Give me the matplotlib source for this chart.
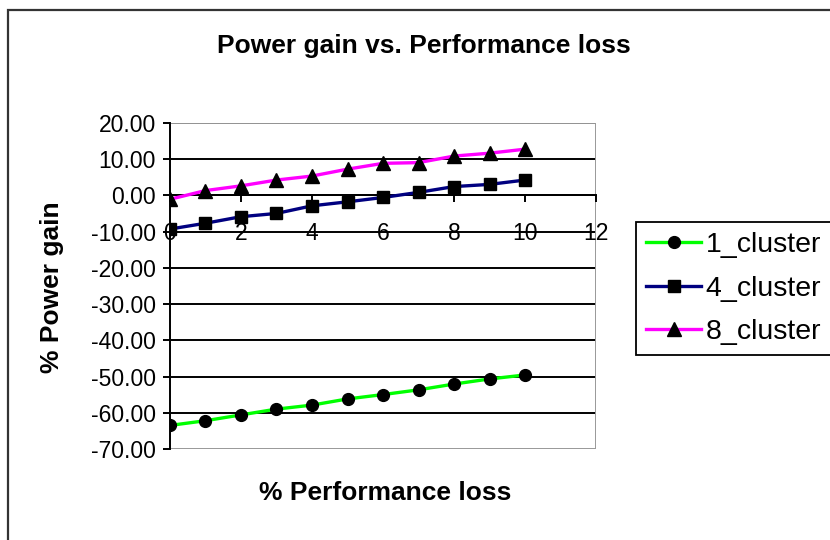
import matplotlib
matplotlib.use("Agg")
import matplotlib.pyplot as plt
from matplotlib.patches import Rectangle
from matplotlib.ticker import FormatStrFormatter

plt.rcParams['font.family'] = ['Liberation Sans', 'DejaVu Sans']

# % performance loss on the x axis
perf_loss = [0, 1, 2, 3, 4, 5, 6, 7, 8, 9, 10]

# % power gain per cluster configuration
gain_1_cluster = [-63.4, -62.1, -60.5, -58.9, -57.8, -56.1, -54.9, -53.6, -52.0, -50.6, -49.5]
gain_4_cluster = [-9.3, -7.7, -5.9, -5.0, -2.9, -1.8, -0.6, 0.8, 2.4, 3.0, 4.2]
gain_8_cluster = [-1.1, 1.3, 2.6, 4.2, 5.3, 7.2, 8.8, 9.0, 10.8, 11.6, 12.7]

series_names = ['1_cluster', '4_cluster', '8_cluster']

x_ticks = [0, 2, 4, 6, 8, 10, 12]
y_ticks = [-70, -60, -50, -40, -30, -20, -10, 0, 10, 20]

fig = plt.figure(figsize=(8.3, 5.4), dpi=100)
fig.patch.set_facecolor('white')

# chart area frame (only the left and top edges fall inside the image)
fig.add_artist(Rectangle((8 / 830, -0.2), 1.5, 0.2 + 530 / 540,
                         transform=fig.transFigure, fill=False,
                         edgecolor='#333333', linewidth=1.6, clip_on=False))

ax = fig.add_axes([0.2048, 0.1678, 0.5133, 0.605])
ax.set_xlim(0, 12)
ax.set_ylim(-70, 20)

# black horizontal gridlines, grey plot-area border
for y in y_ticks[1:]:
    ax.axhline(y, color='black', linewidth=1.4, zorder=1)
ax.add_patch(Rectangle((0, 0), 1, 1, transform=ax.transAxes, fill=False,
                       edgecolor='#999999', linewidth=1.4, zorder=1))

for sp in ['top', 'right']:
    ax.spines[sp].set_visible(False)
ax.spines['left'].set_color('black')
ax.spines['left'].set_linewidth(1.4)
ax.spines['bottom'].set_position(('data', 0))
ax.spines['bottom'].set_color('black')
ax.spines['bottom'].set_linewidth(1.4)

ax.set_xticks(x_ticks)
ax.set_yticks(y_ticks)
ax.yaxis.set_major_formatter(FormatStrFormatter('%.2f'))
ax.tick_params(axis='y', direction='out', length=5, width=1.4, pad=5,
               labelsize=16.5, colors='black')
ax.tick_params(axis='x', direction='out', length=5, width=1.4, pad=14.5,
               labelsize=16.5, colors='black')

ax.plot(perf_loss, gain_1_cluster, color='#00ff00', linewidth=2.4,
        marker='o', markersize=8.5, markerfacecolor='black',
        markeredgecolor='black', label=series_names[0], zorder=4)
ax.plot(perf_loss, gain_4_cluster, color='#000080', linewidth=2.4,
        marker='s', markersize=8.5, markerfacecolor='black',
        markeredgecolor='black', label=series_names[1], zorder=4)
ax.plot(perf_loss, gain_8_cluster, color='#ff00ff', linewidth=2.4,
        marker='^', markersize=10, markerfacecolor='black',
        markeredgecolor='black', label=series_names[2], zorder=4)

fig.text(424 / 830, 1 - 46 / 540, 'Power gain vs. Performance loss',
         ha='center', va='center', fontsize=19, fontweight='bold')
ax.set_xlabel('% Performance loss', fontsize=19, fontweight='bold')
ax.xaxis.set_label_coords(0.505, -0.098)
ax.set_ylabel('% Power gain', fontsize=19, fontweight='bold')
ax.yaxis.set_label_coords(-0.249, 0.497)

leg = fig.legend(loc='upper left', bbox_to_anchor=(636 / 830, 1 - 222 / 540),
                 fontsize=20.5, frameon=True, fancybox=False, framealpha=1,
                 edgecolor='black', handlelength=1.95, handletextpad=0.15,
                 labelspacing=0.62, borderpad=0.35, borderaxespad=0)
leg.get_frame().set_linewidth(1.3)

fig.savefig('out.png', dpi=100, facecolor='white')
